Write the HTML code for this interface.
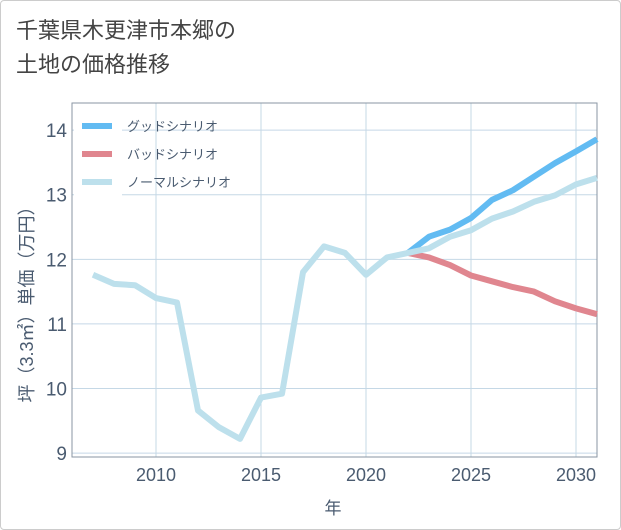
<!DOCTYPE html>
<html><head><meta charset="utf-8"><style>
body{margin:0;background:#fff;}
#wrap{position:relative;width:621px;height:530px;font-family:"Liberation Sans","Noto Sans CJK JP",sans-serif;}
#frame{position:absolute;left:0;top:0;width:619px;height:528px;border:1px solid #ccc;border-radius:4px;}
#title{position:absolute;left:16px;top:14px;font-size:22px;line-height:34px;color:#444;}
svg{position:absolute;left:0;top:0;}
</style></head><body>
<div id="wrap">
<div id="frame"></div>
<div id="title">千葉県木更津市本郷の<br>土地の価格推移</div>
<svg id="chart" width="621" height="530"></svg>
</div>
<script>
const years=[2007,2008,2009,2010,2011,2012,2013,2014,2015,2016,2017,2018,2019,2020,2021,2022,2023,2024,2025,2026,2027,2028,2029,2030,2031];
const normalValues=[11.76,11.62,11.6,11.4,11.33,9.66,9.4,9.22,9.86,9.92,11.8,12.2,12.1,11.76,12.03,12.1,12.17,12.35,12.45,12.63,12.74,12.89,12.99,13.16,13.26];
const forecastYears=[2022,2023,2024,2025,2026,2027,2028,2029,2030,2031];
const goodValues=[12.1,12.35,12.46,12.64,12.92,13.07,13.28,13.49,13.67,13.86];
const badValues=[12.1,12.03,11.91,11.75,11.66,11.57,11.5,11.35,11.24,11.15];
const xTicks=[2010,2015,2020,2025,2030];
const yTicks=[9,10,11,12,13,14];
const legendLabels=["グッドシナリオ","バッドシナリオ","ノーマルシナリオ"];

const L=72,R=597,T=103,B=457;
const X0=2006,X1=2031,Y0=8.94,Y1=14.42;
const sx=v=>L+(v-X0)/(X1-X0)*(R-L);
const sy=v=>B-(v-Y0)/(Y1-Y0)*(B-T);
const svg=document.getElementById('chart');
const NS='http://www.w3.org/2000/svg';
function mk(tag,attrs,parent){const e=document.createElementNS(NS,tag);for(const k in attrs)e.setAttribute(k,attrs[k]);(parent||svg).appendChild(e);return e;}

const bg=mk('rect',{x:L,y:T,width:R-L,height:B-T,fill:'#fff'});


for(const t of xTicks){
  const g=mk('line',{x1:sx(t),x2:sx(t),y1:T,y2:B,stroke:'#c5d8e6','stroke-width':1});
  
  
  const tx=mk('text',{x:sx(t),y:B+24,'text-anchor':'middle','font-size':18,fill:'#4a5b70'});
  tx.textContent=t;
  
  
}
for(const t of yTicks){
  const g=mk('line',{x1:L,x2:R,y1:sy(t),y2:sy(t),stroke:'#c5d8e6','stroke-width':1});
  
  
  const tx=mk('text',{x:L-5,y:sy(t)+7,'text-anchor':'end','font-size':19,fill:'#4a5b70'});
  tx.textContent=t;
  
  
}
const fr=mk('rect',{x:L,y:T,width:R-L,height:B-T,fill:'none',stroke:'#8a96a3','stroke-width':1});



const lb=mk('rect',{x:L+2,y:T+10,width:48,height:90,fill:'#fff'});



function line(xs,ys,color,name){
  const d=xs.map((x,i)=>(i?'L':'M')+sx(x).toFixed(1)+','+sy(ys[i]).toFixed(1)).join(' ');
  const p=mk('path',{d:d,fill:'none',stroke:color,'stroke-width':6,'stroke-linejoin':'round'});
  
  
}
line(forecastYears,badValues,'#e0868f','bad-scenario-line');
line(forecastYears,goodValues,'#62bbf2','good-scenario-line');
line(years,normalValues,'#bde0ec','normal-scenario-line');

const lc=['#62bbf2','#e0868f','#bde0ec'];
legendLabels.forEach((lab,i)=>{
  const y=126+i*28;
  const l=mk('line',{x1:82,x2:112,y1:y,y2:y,stroke:lc[i],'stroke-width':6});
  
  
  const t=mk('text',{x:127,y:y+5,'font-size':13,fill:'#4a5b70'});
  t.textContent=lab;
  
  
});

const xt=mk('text',{x:333,y:514,'text-anchor':'middle','font-size':17,fill:'#4a5b70'});
xt.textContent='年';


const yt=mk('text',{x:0,y:0,'text-anchor':'middle','font-size':18,fill:'#4a5b70',transform:'translate(33,300) rotate(-90)'});
yt.textContent='坪（3.3㎡）単価（万円）';


</script>
</body></html>
